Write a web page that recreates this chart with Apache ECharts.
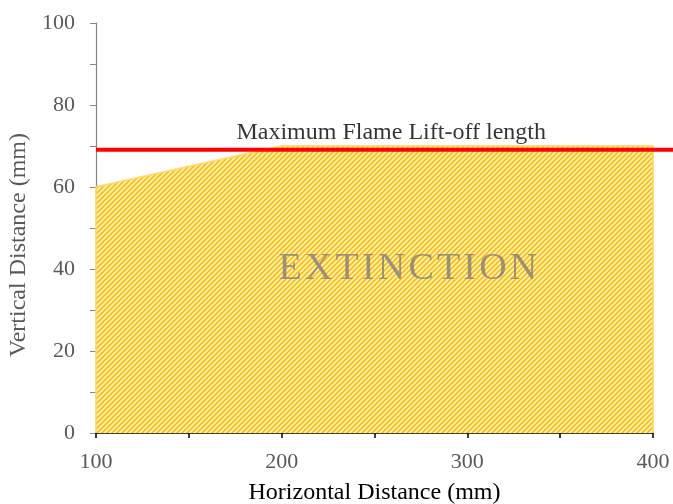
<!DOCTYPE html>
<html>
<head>
<meta charset="utf-8">
<script src="https://cdn.jsdelivr.net/npm/echarts@6/dist/echarts.min.js"></script>
<style>html,body{margin:0;padding:0;background:#fff}#c{width:673px;height:504px}</style>
</head>
<body>
<div id="c"></div>
<script>
// Data
const regionX = [100, 100, 200, 400, 400];
const regionY = [0, 60, 70, 70, 0];
const liftOffX = [100, 410.8];
const liftOffY = [69.1, 69.1];
const labelTexts = ['Maximum Flame Lift-off length', 'EXTINCTION'];
const labelX = [259, 268];
const labelY = [73.2, 40.0];
const xTicks = [100, 200, 300, 400];

function makePattern() {
  const s = 5;
  const c = document.createElement('canvas');
  c.width = s; c.height = s;
  const ctx = c.getContext('2d');
  ctx.fillStyle = '#FFF2CC';
  ctx.fillRect(0, 0, s, s);
  ctx.strokeStyle = '#FFC000';
  ctx.lineWidth = 1.8;
  ctx.beginPath();
  ctx.moveTo(-1, s + 1); ctx.lineTo(s + 1, -1);
  ctx.moveTo(-1, 1); ctx.lineTo(1, -1);
  ctx.moveTo(s - 1, s + 1); ctx.lineTo(s + 1, s - 1);
  ctx.stroke();
  return c;
}

const hs = '\u200A';
const spaced = t => t.split('').join(hs);

const chart = echarts.init(document.getElementById('c'), null, {renderer: 'canvas'});
const serif = '"Liberation Serif", "Times New Roman", serif';
chart.setOption({
  animation: false,
  grid: [
    {left: 96, right: 20, top: 23, bottom: 71, outerBoundsMode: 'none', containLabel: false},
    {left: 96, right: 0, top: 23, bottom: 71, outerBoundsMode: 'none', containLabel: false}
  ],
  xAxis: [{
    type: 'value', min: 100, max: 400, interval: 50, gridIndex: 0,
    name: 'Horizontal Distance (mm)', nameLocation: 'middle', nameGap: 48,
    nameTextStyle: {fontFamily: serif, fontSize: 24, color: '#000'},
    axisLine: {show: true, lineStyle: {color: '#000', width: 1.5}},
    axisTick: {show: true, length: 5, lineStyle: {color: '#000', width: 1.5}},
    axisLabel: {fontFamily: serif, fontSize: 22, color: '#595959', margin: 18,
      formatter: v => xTicks.indexOf(v) >= 0 ? String(v) : ''},
    splitLine: {show: false}
  }, {
    type: 'value', min: 100, max: 410.8, gridIndex: 1, show: false
  }],
  yAxis: [{
    type: 'value', min: 0, max: 100, interval: 20, gridIndex: 0,
    name: 'Vertical Distance (mm)', nameLocation: 'middle', nameGap: 59,
    nameTextStyle: {fontFamily: serif, fontSize: 24, color: '#595959', padding: [0, 34, 0, 0]},
    axisLine: {show: true, lineStyle: {color: '#868686', width: 1.2}},
    axisTick: {show: true, length: 6, lineStyle: {color: '#868686'}},
    minorTick: {show: true, splitNumber: 2, length: 6, lineStyle: {color: '#868686'}},
    axisLabel: {fontFamily: serif, fontSize: 22, color: '#595959', margin: 21},
    splitLine: {show: false}
  }, {
    type: 'value', min: 0, max: 100, gridIndex: 1, show: false
  }],
  series: [
    {
      type: 'line',
      xAxisIndex: 0, yAxisIndex: 0,
      data: regionX.map((x, i) => [x, regionY[i]]),
      symbol: 'none',
      lineStyle: {color: 'rgba(255,214,100,0.8)', width: 2},
      areaStyle: {color: {image: makePattern(), repeat: 'repeat'}, opacity: 1},
      z: 1
    },
    {
      type: 'line',
      xAxisIndex: 1, yAxisIndex: 1,
      data: liftOffX.map((x, i) => [x, liftOffY[i]]),
      symbol: 'none',
      lineStyle: {color: '#FF0000', width: 4},
      z: 3
    },
    {
      type: 'scatter',
      xAxisIndex: 0, yAxisIndex: 0,
      symbolSize: 0,
      silent: true,
      z: 4,
      data: [
        {value: [labelX[0], labelY[0]], label: {show: true, position: 'inside', formatter: labelTexts[0], fontFamily: serif, fontSize: 24, color: '#000'}},
        {value: [labelX[1], labelY[1]], label: {show: true, position: 'inside', formatter: spaced(labelTexts[1]), fontFamily: serif, fontSize: 38, color: '#7F7F7F'}}
      ]
    }
  ]
});
</script>
</body>
</html>
